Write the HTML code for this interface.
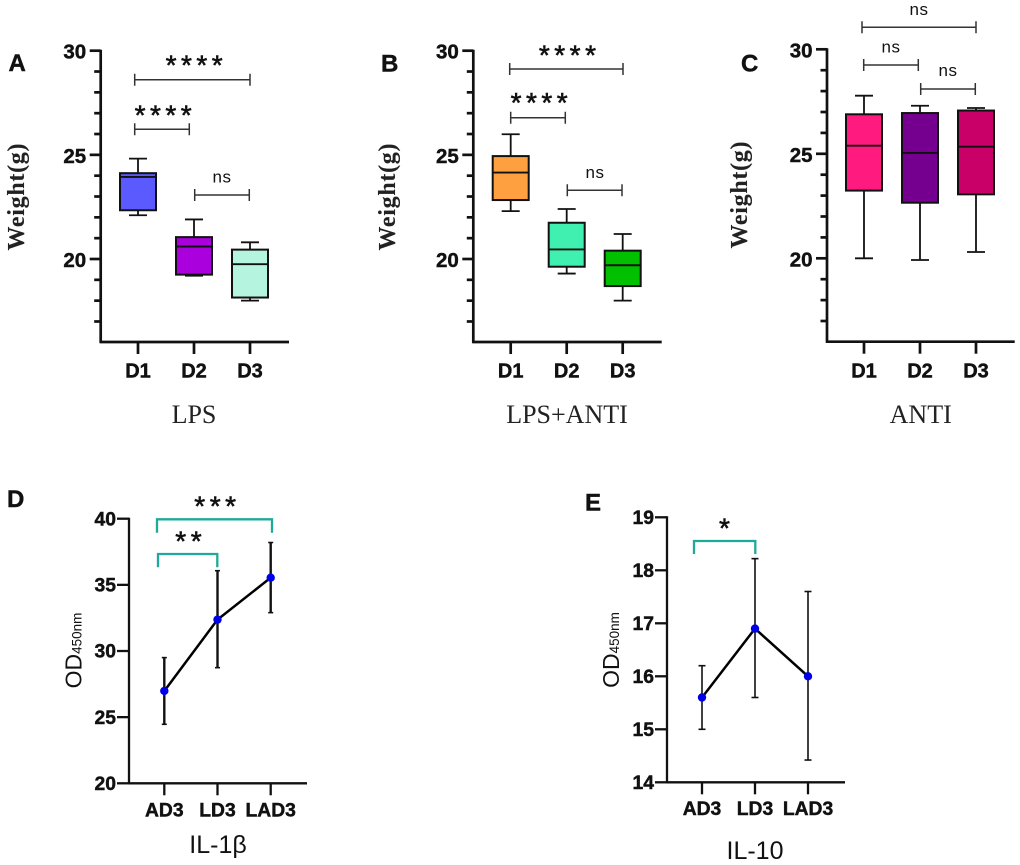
<!DOCTYPE html>
<html lang="en">
<head>
<meta charset="utf-8">
<title>Weight and OD450nm panels</title>
<style>
html,body{margin:0;padding:0;background:#fff;width:1020px;height:865px;overflow:hidden}
svg{display:block}
text{font-family:"Liberation Sans",sans-serif;fill:#111}
.b{font-weight:bold;stroke:#111;stroke-width:0.45px}
.serif{font-family:"Liberation Serif",serif;fill:#222;stroke:#222;stroke-width:0.1px}
.plainserif{font-family:"Liberation Serif",serif;fill:#222}
</style>
</head>
<body>
<svg id="figure" width="1020" height="865" viewBox="0 0 1020 865" xmlns="http://www.w3.org/2000/svg"></svg>
<script>
// Box plot data: [whisker low, box bottom, median, box top, whisker high]
const boxCategories = ['D1', 'D2', 'D3'];
const boxMajorTicks = [20, 25, 30];
const boxMinorTicks = [17, 18, 19, 21, 22, 23, 24, 26, 27, 28, 29];
const lpsD1 = [22.1, 22.34, 23.94, 24.12, 24.82];
const lpsD2 = [19.2, 19.25, 20.6, 21.05, 21.9];
const lpsD3 = [18.0, 18.15, 19.75, 20.45, 20.8];
const lpsAntiD1 = [22.3, 22.83, 24.15, 24.94, 25.99];
const lpsAntiD2 = [19.3, 19.63, 20.46, 21.74, 22.4];
const lpsAntiD3 = [18.0, 18.7, 19.7, 20.4, 21.2];
const antiD1 = [20.0, 23.24, 25.39, 26.89, 27.78];
const antiD2 = [19.92, 22.66, 25.04, 26.95, 27.3];
const antiD3 = [20.3, 23.06, 25.34, 27.07, 27.19];

// Line plot data
const lineCategories = ['AD3', 'LD3', 'LAD3'];
const il1bTicks = [20, 25, 30, 35, 40];
const il1bMean = [26.98, 32.37, 35.54];
const il1bHigh = [29.5, 36.07, 38.2];
const il1bLow = [24.46, 28.74, 32.9];
const il10Ticks = [14, 15, 16, 17, 18, 19];
const il10Mean = [15.6, 16.9, 16.0];
const il10High = [16.2, 18.22, 17.6];
const il10Low = [15.0, 15.6, 14.42];

const NS = 'http://www.w3.org/2000/svg';
const root = document.getElementById('figure');

function add(parent, tag, attrs, txt) {
  const el = document.createElementNS(NS, tag);
  for (const k in attrs) el.setAttribute(k, attrs[k]);
  if (txt !== undefined) el.textContent = txt;
  parent.appendChild(el);
  return el;
}
function linearScale(d0, d1, r0, r1) {
  return function (v) { return r0 + (v - d0) * (r1 - r0) / (d1 - d0); };
}
function seg(parent, x1, y1, x2, y2, stroke, w) {
  return add(parent, 'line', { x1: x1, y1: y1, x2: x2, y2: y2, stroke: stroke, 'stroke-width': w });
}

function drawAxes(g, o) {
  const yAxis = seg(g, o.x0, o.yTop - 1, o.x0, o.yBase + 1, '#111', o.axisW);
  
  
  const xAxis = seg(g, o.x0 - 1, o.yBase, o.xEnd, o.yBase, '#111', o.axisW);
  
  
  o.major.forEach(function (v) {
    const t = seg(g, o.x0 - o.majorLen, o.y(v), o.x0, o.y(v), '#111', o.axisW);
    
    
    const l = add(g, 'text', { x: o.x0 - o.labelGap, y: o.y(v) + o.tickDy, 'text-anchor': 'end', 'font-size': o.tickSize, class: 'b' }, String(v));
    
    
  });
  (o.minor || []).forEach(function (v) {
    const t = seg(g, o.x0 - 6.5, o.y(v), o.x0, o.y(v), '#111', o.axisW);
    
    
  });
  o.categories.forEach(function (c, i) {
    const t = seg(g, o.x(i), o.yBase, o.x(i), o.yBase + 12, '#111', o.axisW);
    
    
    const l = add(g, 'text', { x: o.x(i), y: o.catY, 'text-anchor': 'middle', 'font-size': o.catSize, class: 'b' }, c);
    
    
  });
}

function drawBox(g, o, i, vals, color) {
  const cx = o.x(i), hw = 18, capW = 9;
  const y = o.y;
  const wh = seg(g, cx, y(vals[4]), cx, y(vals[0]), '#111', 1.8);
  
  
  const capHi = seg(g, cx - capW, y(vals[4]), cx + capW, y(vals[4]), '#111', 1.8);
  
  
  const capLo = seg(g, cx - capW, y(vals[0]), cx + capW, y(vals[0]), '#111', 1.8);
  
  
  const r = add(g, 'rect', { x: cx - hw, y: y(vals[3]), width: hw * 2, height: y(vals[1]) - y(vals[3]), fill: color, stroke: '#111', 'stroke-width': 2 });
  
  
  const m = seg(g, cx - hw, y(vals[2]), cx + hw, y(vals[2]), '#111', 1.9);
  
  
}

function hBracket(g, x1, x2, y) {
  const b = add(g, 'path', { d: 'M' + x1 + ' ' + (y - 6) + 'V' + (y + 6) + 'M' + x1 + ' ' + y + 'H' + x2 + 'M' + x2 + ' ' + (y - 6) + 'V' + (y + 6), fill: 'none', stroke: '#333', 'stroke-width': 1.5 });
  
  
}
function stars(g, cx, cy, label) {
  const t = add(g, 'text', { x: cx + 2.4, y: cy + 12.6, 'text-anchor': 'middle', 'font-size': 28, 'letter-spacing': 4.5, stroke: '#111', 'stroke-width': 0.6 }, label);
  
  
}
function ns(g, cx, baseY) {
  const t = add(g, 'text', { x: cx, y: baseY, 'text-anchor': 'middle', 'font-size': 17, 'letter-spacing': 0.5, fill: '#333' }, 'ns');
  
  
}
function tealBracket(g, x1, x2, y, drop) {
  const b = add(g, 'path', { d: 'M' + x1 + ' ' + (y + drop) + 'V' + y + 'H' + x2 + 'V' + (y + drop), fill: 'none', stroke: '#1fa99a', 'stroke-width': 2.3 });
  
  
}
function panelLetter(x, y, s) {
  const t = add(root, 'text', { x: x, y: y, 'font-size': 24, class: 'b', fill: '#000' }, s);
  
  
}
function weightTitle(x, cy) {
  const t = add(root, 'text', { transform: 'translate(' + x + ' ' + cy + ') rotate(-90)', 'text-anchor': 'middle', 'font-size': 24, 'font-weight': 'bold', class: 'serif', textLength: 107, lengthAdjust: 'spacing' }, 'Weight(g)');
  
  
}
function serifTitle(cx, y, s) {
  const t = add(root, 'text', { x: cx, y: y, 'text-anchor': 'middle', 'font-size': 26, class: 'plainserif' }, s);
  
  
}
function odTitle(x, cy) {
  const t = add(root, 'text', { transform: 'translate(' + x + ' ' + cy + ') rotate(-90)', 'text-anchor': 'middle', 'font-size': 23, fill: '#222' });
  
  
  add(t, 'tspan', {}, 'OD');
  add(t, 'tspan', { 'font-size': 13.5 }, '450nm');
}
function sansTitle(cx, y, s) {
  const t = add(root, 'text', { x: cx, y: y, 'text-anchor': 'middle', 'font-size': 25, fill: '#222' }, s);
  
  
}

function boxPanel(name, x0, xFirst, xEnd, y30, y20, yBase, series, colors) {
  const g = add(root, 'g', {});
  
  
  const o = {
    x0: x0, xEnd: xEnd, yTop: y30, yBase: yBase, axisW: 2.7, majorLen: 11, labelGap: 14.5, tickDy: 8, tickSize: 20.5,
    major: boxMajorTicks, minor: boxMinorTicks, categories: boxCategories, catY: yBase + 35.7, catSize: 20,
    y: linearScale(20, 30, y20, y30),
    x: function (i) { return xFirst + i * 56; }
  };
  drawAxes(g, o);
  series.forEach(function (s, i) { drawBox(g, o, i, s, colors[i]); });
  return g;
}

function linePanel(name, x0, xScale, xEnd, yScale, yBase, yTop, ticks, cats, mean, hi, lo, errW, capW, catY, tickSize) {
  const g = add(root, 'g', {});
  
  
  const o = {
    x0: x0, xEnd: xEnd, yTop: yTop, yBase: yBase, axisW: 2.3, majorLen: 12, labelGap: 13, tickDy: 6.7, tickSize: tickSize,
    major: ticks, categories: cats, catY: catY, catSize: 19.3, y: yScale, x: xScale
  };
  drawAxes(g, o);
  mean.forEach(function (m, i) {
    const e = seg(g, xScale(i), yScale(hi[i]), xScale(i), yScale(lo[i]), '#111', errW);
    
    
    const c1 = seg(g, xScale(i) - capW, yScale(hi[i]), xScale(i) + capW, yScale(hi[i]), '#111', 1.6);
    
    
    const c2 = seg(g, xScale(i) - capW, yScale(lo[i]), xScale(i) + capW, yScale(lo[i]), '#111', 1.6);
    
    
  });
  const pl = add(g, 'polyline', { points: mean.map(function (m, i) { return xScale(i) + ',' + yScale(m); }).join(' '), fill: 'none', stroke: '#000', 'stroke-width': 2.5 });
  
  
  mean.forEach(function (m, i) {
    const p = add(g, 'circle', { cx: xScale(i), cy: yScale(m), r: 4.2, fill: '#0000e8' });
    
    
  });
  return g;
}

/* Panel A */
const gA = boxPanel('panel-a-lps', 100.7, 138, 289, 50.7, 259, 342, [lpsD1, lpsD2, lpsD3], ['#5a5aff', '#aa00dd', '#b5f5e0']);
hBracket(gA, 134.7, 250, 79.7);
stars(gA, 194, 62, '****');
hBracket(gA, 134.7, 189.3, 129.3);
stars(gA, 163, 111.7, '****');
hBracket(gA, 194.7, 249.3, 195);
ns(gA, 222, 182.7);
panelLetter(8.5, 71, 'A');
weightTitle(24, 197);
serifTitle(194, 423, 'LPS');

/* Panel B */
const gB = boxPanel('panel-b-lps-anti', 473.3, 510.7, 661.7, 50.7, 259, 342, [lpsAntiD1, lpsAntiD2, lpsAntiD3], ['#ffa040', '#40f0b0', '#00c000']);
hBracket(gB, 509.7, 623, 69);
stars(gB, 567.3, 51.7, '****');
hBracket(gB, 510.7, 565.3, 117.7);
stars(gB, 539, 99.3, '****');
hBracket(gB, 567.3, 622, 190.3);
ns(gB, 595, 178);
panelLetter(381, 71.7, 'B');
weightTitle(395, 197);
serifTitle(567, 423, 'LPS+ANTI');

/* Panel C */
const gC = boxPanel('panel-c-anti', 827, 864, 1014.7, 49.3, 258.3, 341.7, [antiD1, antiD2, antiD3], ['#ff1a80', '#750090', '#c80068']);
hBracket(gC, 862, 976, 27.3);
ns(gC, 919, 15);
hBracket(gC, 863.7, 918.3, 65);
ns(gC, 891, 52.7);
hBracket(gC, 920.7, 975.3, 89);
ns(gC, 948, 76);
panelLetter(741, 71.7, 'C');
weightTitle(747, 195);
serifTitle(920.7, 423, 'ANTI');

/* Panel D */
const gD = linePanel('panel-d-il1b', 129, function (i) { return 164.3 + i * 53.2; }, 307, linearScale(20, 40, 783.3, 518.7), 783.3, 518.7,
  il1bTicks, lineCategories, il1bMean, il1bHigh, il1bLow, 2.4, 2.5, 816.7, 19.3);
tealBracket(gD, 157, 272, 519.3, 13.4);
stars(gD, 215, 502.7, '***');
tealBracket(gD, 158, 217.3, 554, 13.3);
stars(gD, 188.3, 538, '**');
panelLetter(7, 507, 'D');
odTitle(81.7, 650.5);
sansTitle(218, 853, 'IL-1β');

/* Panel E */
const gE = linePanel('panel-e-il10', 667, function (i) { return 702 + i * 53; }, 845, linearScale(14, 19, 782.3, 517.3), 782.3, 517.3,
  il10Ticks, lineCategories, il10Mean, il10High, il10Low, 1.6, 3.5, 815, 19.3);
tealBracket(gE, 694, 755.3, 541, 13);
stars(gE, 724.3, 525, '*');
panelLetter(585, 510.7, 'E');
odTitle(619, 650);
sansTitle(755, 859, 'IL-10');
</script>
</body>
</html>
